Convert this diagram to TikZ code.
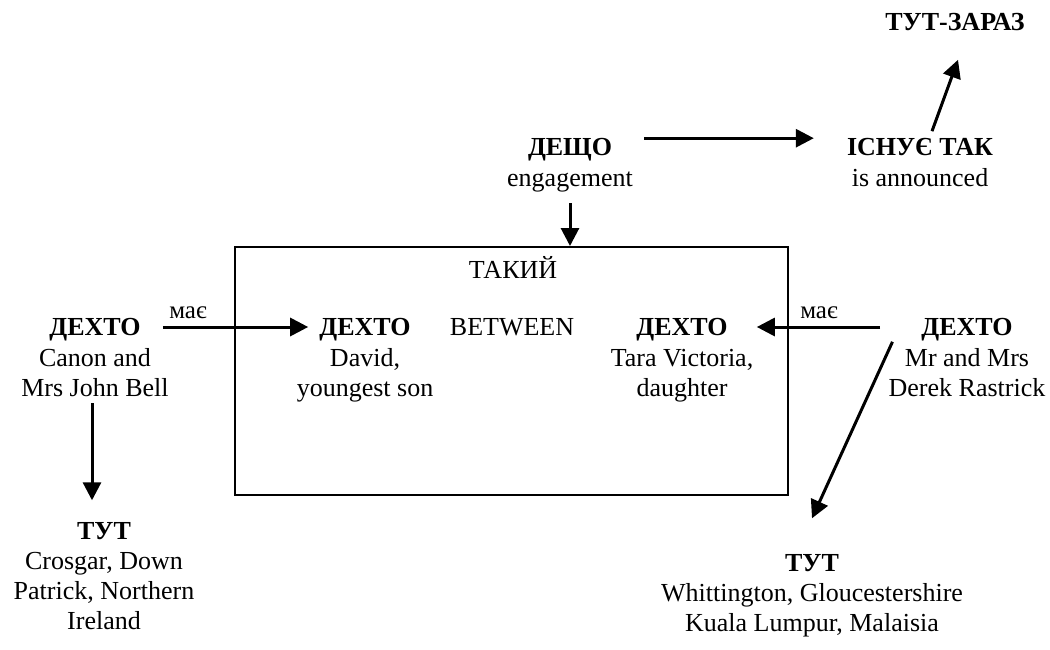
\documentclass[tikz,border=0pt]{standalone}
\usepackage{fontspec}
\setmainfont{Liberation Serif}
\usetikzlibrary{arrows.meta,positioning}

\begin{document}
\begin{tikzpicture}[x=1pt,y=-1pt,
  title/.style={font=\fontsize{26}{30}\selectfont\bfseries, inner sep=0pt, text depth=0pt},
  plain/.style={font=\fontsize{26}{30}\selectfont, inner sep=0pt, text depth=0pt},
  body/.style={font=\fontsize{26}{30}\selectfont, inner sep=0pt, align=center, anchor=north},
  rel/.style={font=\fontsize{25}{29}\selectfont, inner sep=0pt, anchor=base},
  arr/.style={-{Triangle[length=18pt,width=18pt]}, line width=3pt},
  frame/.style={draw, line width=2pt, inner sep=0pt},
]
\useasboundingbox (0,0) rectangle (1050,649);

% the enclosing relation box
\node[frame, minimum width=553pt, minimum height=248pt] (box) at (511.5,371) {};
\node[plain, anchor=base] (kind) at (513,278) {ТАКИЙ};

% top row
\node[title] (tz) at (955,22) {ТУТ-ЗАРАЗ};
\node[title] (dT) at (570,147) {ДЕЩО};
\node[body, below=9pt of dT] (dB) {\strut engagement};
\node[title] (iT) at (920,147) {ІСНУЄ ТАК};
\node[body, below=9pt of iT] (iB) {\strut is announced};

% middle row
\node[title] (lT) at (95,327) {ДЕХТО};
\node[body, below=9pt of lT] (lB) {\strut Canon and\\Mrs John Bell};
\node[title] (liT) at (365,327) {ДЕХТО};
\node[body, below=9pt of liT] (liB) {\strut David,\\youngest son};
\node[plain] (btw) at (512,327) {BETWEEN};
\node[title] (riT) at (682,327) {ДЕХТО};
\node[body, below=9pt of riT] (riB) {\strut Tara Victoria,\\daughter};
\node[title] (rT) at (967,327) {ДЕХТО};
\node[body, below=9pt of rT] (rB) {\strut Mr and Mrs\\Derek Rastrick};

\node[rel] (hasL) at (188,318) {має};
\node[rel] (hasR) at (819,318) {має};

% bottom places
\node[title] (blT) at (104,531) {ТУТ};
\node[body, below=9pt of blT] (blB) {\strut Crosgar, Down\\Patrick, Northern\\Ireland};
\node[title] (brT) at (812,563) {ТУТ};
\node[body, below=9pt of brT] (brB) {\strut Whittington, Gloucestershire\\Kuala Lumpur, Malaisia};

% connectors
\draw[arr, shorten <=32pt, shorten >=33pt] (dT.north east) -- (iT.north west);
\draw[arr] ([shift={(12,-7)}]iT.north) -- ([shift={(3,29)}]tz.south);
\draw[arr, shorten <=8pt] (dB.south) -- (dB.south |- box.north);
\draw[arr, shorten <=22pt, shorten >=11pt] (lT.east) -- (liT.west);
\draw[arr, shorten <=41pt, shorten >=29pt] (rT.west) -- (riT.east);
\coordinate (lDrop) at ([xshift=-3pt]lB.south);
\draw[arr, shorten <=7pt, shorten >=22pt] (lDrop) -- (lDrop |- blT.north);
\draw[arr] ([shift={(4,-3)}]rB.north west) -- ([shift={(0,-36)}]brT.north);
\end{tikzpicture}
\end{document}
